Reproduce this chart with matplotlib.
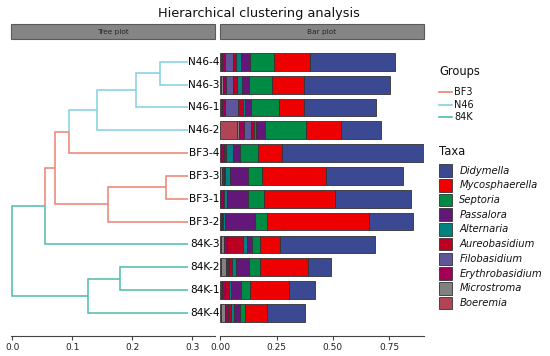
import matplotlib
matplotlib.use("Agg")
import matplotlib.pyplot as plt
from matplotlib.patches import Rectangle
from matplotlib.lines import Line2D

# ---------------- data ----------------
samples = ["N46-4", "N46-3", "N46-1", "N46-2", "BF3-4", "BF3-3",
           "BF3-1", "BF3-2", "84K-3", "84K-2", "84K-1", "84K-4"]
sample_group = ["N46", "N46", "N46", "N46", "BF3", "BF3",
                "BF3", "BF3", "84K", "84K", "84K", "84K"]

groups = ["BF3", "N46", "84K"]
group_colors = ["#EE8172", "#82CFE2", "#4CBDAB"]

taxa = ["Didymella", "Mycosphaerella", "Septoria", "Passalora", "Alternaria",
        "Aureobasidium", "Filobasidium", "Erythrobasidium", "Microstroma", "Boeremia"]
taxa_colors = ["#3B4992", "#EE0000", "#008B45", "#631879", "#008280",
               "#BB0021", "#5F559B", "#A20056", "#808180", "#B04655"]

# relative abundance per sample (order of samples above)
Didymella       = [0.378, 0.381, 0.319, 0.176, 0.630, 0.340, 0.334, 0.193, 0.423, 0.104, 0.115, 0.169]
Mycosphaerella  = [0.160, 0.141, 0.111, 0.153, 0.104, 0.286, 0.316, 0.452, 0.087, 0.210, 0.170, 0.096]
Septoria        = [0.107, 0.101, 0.123, 0.185, 0.081, 0.064, 0.073, 0.056, 0.037, 0.049, 0.040, 0.022]
Passalora       = [0.040, 0.034, 0.027, 0.040, 0.030, 0.077, 0.095, 0.133, 0.022, 0.059, 0.046, 0.031]
Alternaria      = [0.022, 0.021, 0.010, 0.007, 0.034, 0.024, 0.010, 0.009, 0.015, 0.019, 0.010, 0.013]
Aureobasidium   = [0.015, 0.019, 0.019, 0.015, 0.008, 0.004, 0.004, 0.003, 0.072, 0.012, 0.015, 0.010]
Filobasidium    = [0.034, 0.030, 0.059, 0.030, 0.003, 0.002, 0.003, 0.001, 0.002, 0.004, 0.003, 0.004]
Erythrobasidium = [0.015, 0.015, 0.015, 0.021, 0.008, 0.008, 0.006, 0.004, 0.012, 0.008, 0.012, 0.012]
Microstroma     = [0.004, 0.008, 0.005, 0.009, 0.003, 0.006, 0.004, 0.003, 0.015, 0.025, 0.006, 0.018]
Boeremia        = [0.002, 0.003, 0.002, 0.076, 0.002, 0.001, 0.001, 0.001, 0.002, 0.002, 0.002, 0.002]
abund = {"Didymella": Didymella, "Mycosphaerella": Mycosphaerella, "Septoria": Septoria,
         "Passalora": Passalora, "Alternaria": Alternaria, "Aureobasidium": Aureobasidium,
         "Filobasidium": Filobasidium, "Erythrobasidium": Erythrobasidium,
         "Microstroma": Microstroma, "Boeremia": Boeremia}

# dendrogram: leaf position (distance from root) and internal nodes
leaf_x = 0.293
# node name: (child1, child2, x position, group)
nodes = {
    "n1": ("N46-4", "N46-3", 0.246, "N46"),
    "n2": ("n1", "N46-1", 0.207, "N46"),
    "n3": ("n2", "N46-2", 0.142, "N46"),
    "n4": ("n3", "BF3-4", 0.0945, "BF3"),
    "n5": ("BF3-3", "BF3-1", 0.256, "BF3"),
    "n6": ("n5", "BF3-2", 0.159, "BF3"),
    "n7": ("n4", "n6", 0.071, "BF3"),
    "n8": ("n7", "84K-3", 0.0545, "84K"),
    "n9": ("84K-2", "84K-1", 0.1795, "84K"),
    "n10": ("n9", "84K-4", 0.127, "84K"),
    "root": ("n8", "n10", 0.0, None),
}

# ---------------- figure ----------------
W, H = 550, 356
fig = plt.figure(figsize=(W / 100, H / 100), dpi=100)

def fx(px):
    return px / W

def fy(py):
    return 1 - py / H

ax_top, ax_bot = 39.0, 335.7
ax_tree = fig.add_axes([fx(11), fy(ax_bot), fx(215 - 11), (ax_bot - ax_top) / H])
ax_bar = fig.add_axes([fx(220), fy(ax_bot), fx(423.5 - 220), (ax_bot - ax_top) / H])

n = len(samples)
ypos = {s: n - i for i, s in enumerate(samples)}
xpos = {s: leaf_x for s in samples}
gcol = dict(zip(groups, group_colors))
node_group = {s: g for s, g in zip(samples, sample_group)}

# compute internal node positions
def resolve(name):
    if name in ypos:
        return
    c1, c2, x, g = nodes[name]
    resolve(c1)
    resolve(c2)
    ypos[name] = (ypos[c1] + ypos[c2]) / 2
    xpos[name] = x
    node_group[name] = g

resolve("root")

for name, (c1, c2, x, g) in nodes.items():
    for c in (c1, c2):
        col = gcol[node_group[c]]
        ax_tree.plot([x, x, xpos[c]], [ypos[name], ypos[c], ypos[c]],
                     color=col, lw=1.1, solid_capstyle="butt", solid_joinstyle="miter")

for s in samples:
    ax_tree.text(0.3455, ypos[s], s, ha="right", va="center", fontsize=7.6,
                 color="black", clip_on=False)

ax_tree.set_xlim(-0.002, 0.338)
ax_tree.set_ylim(0, n + 1)

# stacked bars
stack_order = taxa[::-1]
left = [0.0] * n
ys = [ypos[s] for s in samples]
tcol = dict(zip(taxa, taxa_colors))
for t in stack_order:
    vals = abund[t]
    ax_bar.barh(ys, vals, left=left, height=0.78, color=tcol[t],
                edgecolor="#333333", linewidth=0.6)
    left = [l + v for l, v in zip(left, vals)]

ax_bar.set_xlim(-0.001, 0.903)
ax_bar.set_ylim(0, n + 1)

for ax, ticks, labels in [(ax_tree, [0, 0.1, 0.2, 0.3], ["0.0", "0.1", "0.2", "0.3"]),
                          (ax_bar, [0, 0.25, 0.5, 0.75], ["0.00", "0.25", "0.50", "0.75"])]:
    for sp in ["top", "right", "left"]:
        ax.spines[sp].set_visible(False)
    ax.spines["bottom"].set_color("#444444")
    ax.spines["bottom"].set_linewidth(0.8)
    ax.set_yticks([])
    ax.set_xticks(ticks)
    ax.set_xticklabels(labels)
    ax.tick_params(axis="x", length=3, width=0.8, color="#444444",
                   labelsize=6.5, labelcolor="#222222", pad=2)
    ax.patch.set_alpha(0)

# overlay axes in pixel coordinates for title, strips, legends
ov = fig.add_axes([0, 0, 1, 1])
ov.set_xlim(0, W)
ov.set_ylim(H, 0)
ov.axis("off")
ov.patch.set_alpha(0)

ov.text(259, 14, "Hierarchical clustering analysis", ha="center", va="center",
        fontsize=9.3, color="#111111")

for x0, x1, lab in [(11, 215, "Tree plot"), (220, 423.5, "Bar plot")]:
    ov.add_patch(Rectangle((x0, 24.3), x1 - x0, 39 - 24.3, facecolor="#858585",
                           edgecolor="#5a5a5a", linewidth=0.8))
    ov.text((x0 + x1) / 2, 31.8, lab, ha="center", va="center", fontsize=5.3,
            color="#262626")

# groups legend
ov.text(439, 71.7, "Groups", ha="left", va="center", fontsize=8.3, color="#111111")
for i, (g, c) in enumerate(zip(groups, group_colors)):
    yy = 91.7 + i * 12.8
    ov.add_line(Line2D([439, 451.7], [yy, yy], color=c, lw=1.2))
    ov.text(454.3, yy, g, ha="left", va="center", fontsize=7, color="#111111")

# taxa legend
ov.text(439, 151.7, "Taxa", ha="left", va="center", fontsize=8.3, color="#111111")
for i, (t, c) in enumerate(zip(taxa, taxa_colors)):
    yy = 170.7 + i * 14.7
    ov.add_patch(Rectangle((439.3, yy - 6.3), 13, 12.6, facecolor=c,
                           edgecolor="#333333", linewidth=0.6))
    ov.text(459.3, yy, t, ha="left", va="center", fontsize=7.2, style="italic",
            color="#111111")

fig.savefig("out.png", dpi=100)
